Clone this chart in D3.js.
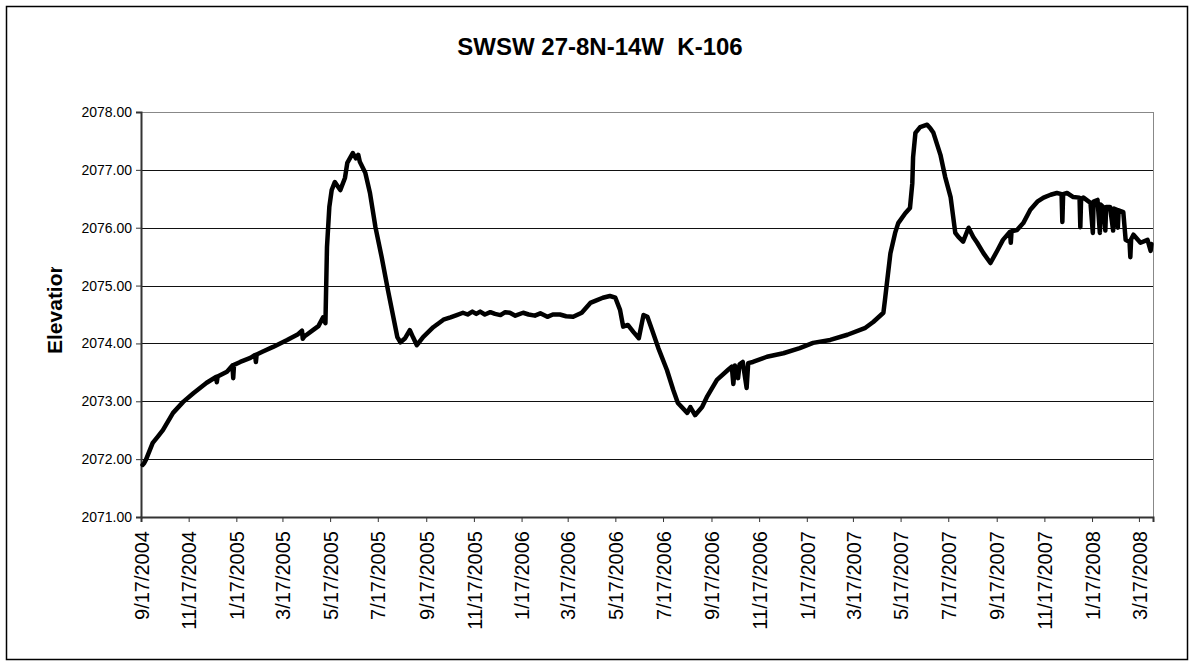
<!DOCTYPE html>
<html>
<head>
<meta charset="utf-8">
<script src="https://cdn.jsdelivr.net/npm/d3@7"></script>
<style>
  body { margin: 0; background: #fff; }
  svg text { font-family: "Liberation Sans", Arial, sans-serif; }
</style>
</head>
<body>
<svg id="chart" width="1195" height="666"></svg>
<script>
var readDates = [
  "2004-09-19","2004-09-21","2004-09-23","2004-10-02","2004-10-08","2004-10-15","2004-10-28","2004-11-10",
  "2004-11-23","2004-12-10","2004-12-22","2004-12-23","2004-12-24","2005-01-05","2005-01-12","2005-01-13",
  "2005-01-14","2005-01-22","2005-02-04","2005-02-10","2005-02-11","2005-02-12","2005-02-20","2005-03-05",
  "2005-03-23","2005-04-06","2005-04-11","2005-04-12","2005-04-14","2005-04-25","2005-05-02","2005-05-08",
  "2005-05-11","2005-05-13","2005-05-16","2005-05-19","2005-05-23","2005-05-30","2005-06-05","2005-06-08",
  "2005-06-15","2005-06-19","2005-06-22","2005-06-24","2005-07-01","2005-07-07","2005-07-14","2005-07-22",
  "2005-07-30","2005-08-11","2005-08-15","2005-08-21","2005-08-27","2005-08-31","2005-09-05","2005-09-13",
  "2005-09-26","2005-10-09","2005-10-18","2005-10-26","2005-11-03","2005-11-09","2005-11-15","2005-11-20",
  "2005-11-25","2005-12-01","2005-12-08","2005-12-14","2005-12-21","2005-12-27","2006-01-02","2006-01-09",
  "2006-01-19","2006-01-26","2006-02-03","2006-02-10","2006-02-19","2006-02-26","2006-03-07","2006-03-15",
  "2006-03-24","2006-04-04","2006-04-15","2006-04-22","2006-05-01","2006-05-10","2006-05-17","2006-05-23",
  "2006-05-27","2006-06-02","2006-06-09","2006-06-16","2006-06-22","2006-06-27","2006-07-03","2006-07-11",
  "2006-07-22","2006-07-30","2006-08-05","2006-08-17","2006-08-21","2006-08-27","2006-09-05","2006-09-11",
  "2006-09-24","2006-10-08","2006-10-13","2006-10-15","2006-10-17","2006-10-21","2006-10-23","2006-10-27",
  "2006-11-01","2006-11-03","2006-11-09","2006-11-27","2006-12-18","2007-01-08","2007-01-25","2007-02-16",
  "2007-03-10","2007-04-02","2007-04-12","2007-04-25","2007-04-27","2007-04-30","2007-05-04","2007-05-10",
  "2007-05-14","2007-05-23","2007-05-29","2007-06-01","2007-06-02","2007-06-05","2007-06-11","2007-06-20",
  "2007-06-24","2007-06-28","2007-07-07","2007-07-13","2007-07-20","2007-07-26","2007-07-30","2007-08-05",
  "2007-08-12","2007-08-18","2007-08-23","2007-08-31","2007-09-09","2007-09-18","2007-09-25","2007-10-04",
  "2007-10-05","2007-10-06","2007-10-13","2007-10-21","2007-10-30","2007-11-08","2007-11-16","2007-11-25",
  "2007-12-03","2007-12-09","2007-12-10","2007-12-11","2007-12-16","2007-12-24","2008-01-01","2008-01-02",
  "2008-01-03","2008-01-06","2008-01-15","2008-01-18","2008-01-19","2008-01-24","2008-01-27","2008-01-28",
  "2008-01-31","2008-02-03","2008-02-04","2008-02-09","2008-02-13","2008-02-14","2008-02-18","2008-02-19",
  "2008-02-20","2008-02-26","2008-02-29","2008-03-05","2008-03-06","2008-03-07","2008-03-10","2008-03-19",
  "2008-03-28","2008-04-01","2008-04-02"
];

var elevations = [
  2071.90,2071.93,2071.98,2072.28,2072.38,2072.50,2072.80,2072.99,
  2073.14,2073.32,2073.42,2073.33,2073.43,2073.51,2073.62,2073.40,
  2073.63,2073.68,2073.75,2073.80,2073.68,2073.81,2073.86,2073.94,
  2074.06,2074.16,2074.22,2074.08,2074.12,2074.23,2074.30,2074.45,
  2074.35,2075.67,2076.36,2076.65,2076.79,2076.65,2076.86,2077.12,
  2077.29,2077.20,2077.26,2077.14,2076.95,2076.60,2076.01,2075.49,
  2074.92,2074.11,2074.02,2074.09,2074.23,2074.11,2073.97,2074.11,
  2074.28,2074.41,2074.45,2074.49,2074.53,2074.50,2074.55,2074.51,
  2074.55,2074.50,2074.54,2074.51,2074.49,2074.54,2074.53,2074.48,
  2074.53,2074.50,2074.48,2074.52,2074.46,2074.50,2074.50,2074.47,
  2074.46,2074.53,2074.70,2074.74,2074.79,2074.82,2074.79,2074.58,
  2074.29,2074.32,2074.20,2074.09,2074.49,2074.46,2074.23,2073.92,
  2073.54,2073.20,2072.97,2072.80,2072.90,2072.76,2072.90,2073.07,
  2073.37,2073.54,2073.60,2073.30,2073.62,2073.40,2073.64,2073.68,
  2073.23,2073.66,2073.68,2073.77,2073.83,2073.92,2074.01,2074.06,
  2074.15,2074.27,2074.37,2074.53,2074.75,2075.10,2075.56,2075.91,
  2076.08,2076.25,2076.34,2076.77,2077.22,2077.64,2077.74,2077.78,
  2077.72,2077.64,2077.26,2076.88,2076.53,2075.91,2075.84,2075.76,
  2076.00,2075.84,2075.74,2075.56,2075.39,2075.61,2075.79,2075.93,
  2075.74,2075.94,2075.96,2076.08,2076.31,2076.45,2076.52,2076.57,
  2076.60,2076.58,2076.10,2076.58,2076.60,2076.53,2076.52,2076.01,
  2076.50,2076.52,2076.43,2075.91,2076.45,2076.48,2075.91,2076.40,
  2076.36,2075.95,2076.36,2076.36,2075.95,2076.33,2076.31,2076.00,
  2076.30,2076.27,2075.79,2075.75,2075.49,2075.80,2075.88,2075.74,
  2075.79,2075.60,2075.72
];

// Axis tick labels
var xTickLabels = [
  "9/17/2004","11/17/2004","1/17/2005","3/17/2005","5/17/2005","7/17/2005","9/17/2005","11/17/2005",
  "1/17/2006","3/17/2006","5/17/2006","7/17/2006","9/17/2006","11/17/2006","1/17/2007","3/17/2007",
  "5/17/2007","7/17/2007","9/17/2007","11/17/2007","1/17/2008","3/17/2008"
];
var yTicks = [2071, 2072, 2073, 2074, 2075, 2076, 2077, 2078];

var titleText = "SWSW 27-8N-14W\u00a0\u00a0K-106";
var yTitle = "Elevation";

var svg = d3.select("#chart");

var plotLeft = 141, plotRight = 1153, plotTop = 112, plotBottom = 517;

var parseISO = d3.timeParse("%Y-%m-%d");
var parseTick = d3.timeParse("%m/%d/%Y");

var data = readDates.map(function (d, i) {
  return { date: parseISO(d), value: elevations[i] };
});

var xScale = d3.scaleTime()
  .domain([parseISO("2004-09-17"), parseISO("2008-04-04")])
  .range([plotLeft, plotRight]);

var yScale = d3.scaleLinear()
  .domain([d3.min(yTicks), d3.max(yTicks)])
  .range([plotBottom, plotTop]);

// outer chart border
svg.append("rect")
  .attr("x", 6.5).attr("y", 6.5)
  .attr("width", 1181).attr("height", 653)
  .attr("fill", "#fff")
  .attr("stroke", "#000")
  .attr("stroke-width", 1.5);

// title
svg.append("text")
  .attr("x", 600).attr("y", 55)
  .attr("text-anchor", "middle")
  .style("font-size", "24px")
  .style("font-weight", "bold")
  .text(titleText);

// gridlines
svg.append("g")
  .selectAll("line")
  .data(yTicks)
  .enter()
  .append("line")
  .attr("x1", plotLeft).attr("x2", plotRight)
  .attr("y1", function (d) { return Math.round(yScale(d)) + 0.5; })
  .attr("y2", function (d) { return Math.round(yScale(d)) + 0.5; })
  .attr("stroke", function (d) { return d === 2078 ? "#888" : "#111"; })
  .attr("stroke-width", 1);

// right edge of the plot area
svg.append("line")
  .attr("x1", plotRight + 0.5).attr("x2", plotRight + 0.5)
  .attr("y1", plotTop).attr("y2", plotBottom)
  .attr("stroke", "#888");

// y axis
var yAxis = d3.axisLeft(yScale)
  .tickValues(yTicks)
  .tickSize(5)
  .tickFormat(d3.format(".2f"));

var yG = svg.append("g")
  .attr("transform", "translate(" + plotLeft + ",0)")
  .call(yAxis);
yG.select(".domain").attr("stroke", "#333").attr("stroke-width", 2);
yG.selectAll(".tick line").attr("stroke", "#333");
yG.selectAll("text")
  .attr("x", -9)
  .style("font-size", "14px")
  .style("font-family", "'Liberation Sans', Arial, sans-serif")
  .attr("fill", "#000");

// x axis
var xAxis = d3.axisBottom(xScale)
  .tickValues(xTickLabels.map(parseTick))
  .tickSize(5)
  .tickFormat(function (d, i) { return xTickLabels[i]; });

var xG = svg.append("g")
  .attr("transform", "translate(0," + plotBottom + ")")
  .call(xAxis);
xG.select(".domain").attr("stroke", "#333").attr("stroke-width", 2);
xG.selectAll(".tick line").attr("stroke", "#333");
xG.selectAll("text")
  .style("text-anchor", "end")
  .style("font-size", "20px")
  .style("font-family", "'Liberation Sans', Arial, sans-serif")
  .attr("fill", "#000")
  .attr("x", -14)
  .attr("y", 0)
  .attr("dy", "0.36em")
  .attr("transform", "rotate(-90)");

// y axis title, clipped the way the original box cut it off
svg.append("clipPath")
  .attr("id", "ytitle-clip")
  .append("rect")
  .attr("x", 30).attr("y", 267)
  .attr("width", 50).attr("height", 100);

svg.append("g")
  .attr("clip-path", "url(#ytitle-clip)")
  .append("text")
  .attr("transform", "translate(62,354) rotate(-90)")
  .attr("text-anchor", "start")
  .style("font-size", "21px")
  .style("font-weight", "bold")
  .text(yTitle);

// the water level line
var line = d3.line()
  .x(function (d) { return xScale(d.date); })
  .y(function (d) { return yScale(d.value); });

svg.append("path")
  .datum(data)
  .attr("d", line)
  .attr("fill", "none")
  .attr("stroke", "#000")
  .attr("stroke-width", 4.5)
  .attr("stroke-linejoin", "round")
  .attr("stroke-linecap", "round");
</script>
</body>
</html>
